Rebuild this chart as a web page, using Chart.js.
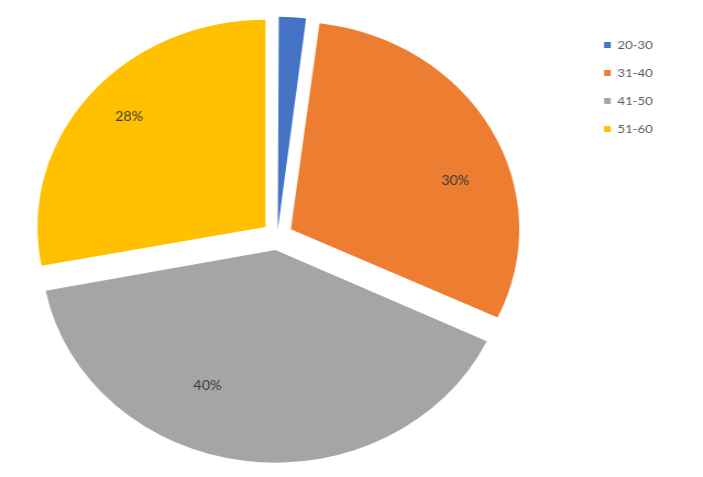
<!DOCTYPE html>
<html>
<head>
<meta charset="utf-8">
<script src="https://cdn.jsdelivr.net/npm/chart.js@4.4.1/dist/chart.umd.min.js"></script>
<style>
html, body { margin: 0; padding: 0; background: #fff; overflow: hidden; }
#wrap { width: 639px; height: 477px; transform: scaleX(1.1); transform-origin: 0 0; }
</style>
</head>
<body>
<div id="wrap"><canvas id="age_pie"></canvas></div>
<script>
const age_groups = ['20-30', '31-40', '41-50', '51-60'];
const age_shares = [2, 30, 40, 28];
const slice_colors = ['#4472c4', '#ed7d31', '#a5a5a5', '#ffc000'];
const slice_offsets = [26, 56, 56, 56];

// where each percentage sits: fraction along the arc, fraction of the radius
const label_along = [0.5, 0.6, 0.62, 0.52];
const label_depth = [0.8, 0.76, 0.72, 0.8];

const slice_labels = {
    id: 'slice_labels',
    afterDatasetsDraw(chart) {
        const ctx = chart.ctx;
        const meta = chart.getDatasetMeta(0);
        const total = age_shares.reduce((a, b) => a + b, 0);

        ctx.save();
        ctx.font = '13px Lato';
        ctx.fillStyle = '#3a3a3a';
        ctx.textAlign = 'center';
        ctx.textBaseline = 'middle';

        meta.data.forEach((arc, i) => {
            const pct = Math.round(age_shares[i] / total * 100);
            // the thin slice carries no label
            if (pct < 5) {
                return;
            }
            const half = (arc.startAngle + arc.endAngle) / 2;
            const shift = (arc.options.offset || 0) / 4;
            const angle = arc.startAngle + label_along[i] * (arc.endAngle - arc.startAngle);
            const r = arc.outerRadius * label_depth[i];
            const x = arc.x + Math.cos(half) * shift + Math.cos(angle) * r;
            const y = arc.y + Math.sin(half) * shift + Math.sin(angle) * r;
            ctx.fillText(pct + '%', x, y);
        });

        ctx.restore();
    }
};

// keep the legend further right than the layout would put it
const legend_nudge = {
    id: 'legend_nudge',
    afterLayout(chart) {
        chart.legend.left += 29;
        chart.legend.right += 29;
    }
};

new Chart(document.getElementById('age_pie'), {
    type: 'pie',
    data: {
        labels: age_groups,
        datasets: [{
            data: age_shares,
            backgroundColor: slice_colors,
            borderWidth: 0,
            offset: slice_offsets,
            hoverOffset: 0,
            radius: 207
        }]
    },
    options: {
        responsive: true,
        maintainAspectRatio: false,
        animation: false,
        layout: {
            padding: { left: 0, right: 64.5, top: 23, bottom: 28 }
        },
        plugins: {
            legend: {
                position: 'right',
                align: 'start',
                labels: {
                    boxWidth: 6,
                    boxHeight: 6,
                    padding: 16,
                    color: '#595959',
                    font: { family: 'Lato', size: 12 }
                }
            },
            tooltip: { enabled: false }
        }
    },
    plugins: [slice_labels, legend_nudge]
});
</script>
</body>
</html>
